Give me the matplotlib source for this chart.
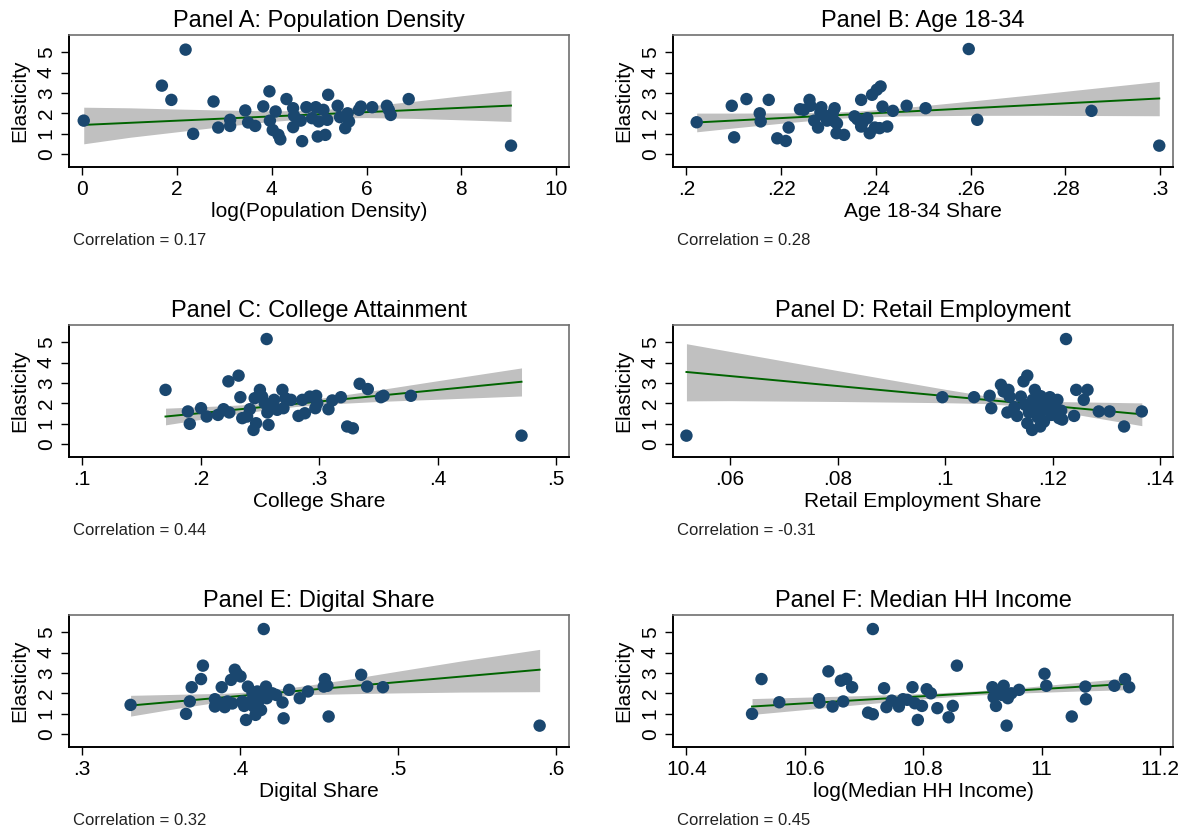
import matplotlib
matplotlib.use('Agg')
import matplotlib.pyplot as plt

plt.rcParams['font.family'] = ['Liberation Sans', 'DejaVu Sans']

# ---------------- data ----------------
titles = ['Panel A: Population Density', 'Panel B: Age 18-34',
          'Panel C: College Attainment', 'Panel D: Retail Employment',
          'Panel E: Digital Share', 'Panel F: Median HH Income']
xlabels = ['log(Population Density)', 'Age 18-34 Share', 'College Share',
           'Retail Employment Share', 'Digital Share', 'log(Median HH Income)']
correlations = ['0.17', '0.28', '0.44', '-0.31', '0.32', '0.45']
y_label = 'Elasticity'
y_ticks = [0, 1, 2, 3, 4, 5]

# Panel A
a_x = [0.03, 2.18, 1.68, 1.88, 2.34, 2.77, 2.87, 3.12, 3.12, 3.44, 3.50, 3.65, 3.82, 3.95, 3.96,
       4.08, 4.02, 4.14, 4.18, 4.31, 4.45, 4.47, 4.45, 4.61, 4.64, 4.73, 4.85, 4.93, 4.97, 4.99,
       5.09, 5.13, 5.19, 5.17, 5.39, 5.44, 5.55, 5.60, 5.63, 5.84, 5.88, 6.12, 6.43, 6.47, 6.51,
       6.89, 9.05]
a_y = [1.64, 5.13, 3.36, 2.66, 0.99, 2.58, 1.30, 1.68, 1.38, 2.14, 1.55, 1.38, 2.34, 3.08, 1.64,
       2.09, 1.18, 0.94, 0.72, 2.70, 2.25, 1.88, 1.32, 1.64, 0.63, 2.30, 1.76, 2.30, 0.86, 1.60,
       2.17, 0.94, 2.91, 1.68, 2.37, 1.81, 1.27, 2.00, 1.60, 2.17, 2.33, 2.30, 2.37, 2.17, 1.92,
       2.70, 0.41]
a_fit_x = [0.03, 9.05]
a_fit_y = [1.43, 2.38]
a_band_x = [0.03, 1, 2, 3, 4, 4.9, 6, 7, 8, 9.05]
a_band_hi = [2.30, 2.27, 2.21, 2.16, 2.12, 2.15, 2.35, 2.59, 2.86, 3.13]
a_band_lo = [0.50, 0.82, 1.09, 1.36, 1.60, 1.76, 1.79, 1.75, 1.68, 1.60]
a_ticks = [0, 2, 4, 6, 8, 10]
a_ticklabels = ['0', '2', '4', '6', '8', '10']

# Panel B
b_x = [.2022, .2096, .2101, .2127, .2155, .2157, .2174, .2192, .2210, .2216,
       .2248, .2260, .2262, .2270, .2278, .2285, .2289, .2297, .2309, .2313,
       .2313, .2317, .2333, .2361, .2369, .2369, .2382, .2387, .2392, .2402,
       .2410, .2408, .2414, .2424, .2436, .2465, .2505, .2596, .2614, .2855,
       .2998, .2240, .2300, .2318, .2355, .2372, .2398, .2283]
b_y = [1.56, 2.37, 0.82, 2.70, 2.00, 1.60, 2.66, 0.77, 0.64, 1.30,
       2.17, 2.66, 2.37, 1.64, 1.30, 2.30, 1.92, 1.64, 2.00, 2.25,
       1.60, 1.02, 0.94, 1.71, 2.66, 1.35, 1.76, 1.02, 2.91, 3.16,
       3.32, 1.27, 2.33, 1.35, 2.12, 2.37, 2.25, 5.16, 1.68, 2.12,
       0.41, 2.20, 1.85, 1.50, 1.85, 1.55, 1.30, 2.05]
b_fit_x = [.2022, .2998]
b_fit_y = [1.55, 2.73]
b_band_x = [.2022, .21, .22, .23, .236, .245, .26, .275, .2998]
b_band_hi = [2.01, 2.01, 2.02, 2.05, 2.11, 2.26, 2.60, 2.96, 3.57]
b_band_lo = [1.09, 1.28, 1.51, 1.72, 1.81, 1.87, 1.90, 1.90, 1.88]
b_ticks = [.2, .22, .24, .26, .28, .3]
b_ticklabels = ['.2', '.22', '.24', '.26', '.28', '.3']

# Panel C
c_x = [.1703, .1892, .1908, .2003, .2051, .2146, .2193, .2241, .2234, .2320,
       .2335, .2351, .2392, .2415, .2446, .2456, .2468, .2500, .2519, .2541,
       .2557, .2563, .2573, .2589, .2620, .2646, .2690, .2699, .2715, .2763,
       .2826, .2858, .2880, .2921, .2968, .2975, .2984, .3079, .3111, .3184,
       .3237, .3285, .3342, .3411, .3522, .3544, .3775, .4709]
c_y = [2.66, 1.60, 0.99, 1.76, 1.35, 1.43, 1.71, 1.55, 3.08, 3.36,
       2.30, 1.27, 1.35, 1.71, 0.69, 2.25, 1.02, 2.66, 2.33, 2.00,
       5.16, 1.55, 0.94, 1.84, 2.17, 1.68, 2.66, 1.76, 2.25, 2.17,
       1.38, 2.17, 1.51, 2.33, 1.76, 2.37, 2.00, 1.71, 2.14, 2.30,
       0.86, 0.77, 2.96, 2.70, 2.30, 2.37, 2.37, 0.41]
c_fit_x = [.1703, .4709]
c_fit_y = [1.35, 3.06]
c_band_x = [.1703, .2, .23, .26, .28, .31, .35, .40, .4709]
c_band_hi = [1.76, 1.83, 1.91, 2.01, 2.10, 2.32, 2.66, 3.11, 3.74]
c_band_lo = [0.94, 1.21, 1.47, 1.71, 1.84, 1.97, 2.09, 2.20, 2.36]
c_ticks = [.1, .2, .3, .4, .5]
c_ticklabels = ['.1', '.2', '.3', '.4', '.5']

# Panel D
d_x = [.0519, .0995, .1054, .1083, .1086, .1104, .1109, .1118, .1116, .1120,
       .1129, .1134, .1141, .1146, .1153, .1149, .1153, .1156, .1162, .1163,
       .1167, .1169, .1172, .1174, .1177, .1181, .1184, .1188, .1195, .1198,
       .1202, .1209, .1212, .1216, .1225, .1240, .1244, .1258, .1265, .1286,
       .1306, .1333, .1366, .1157, .1178, .1192, .1205, .1218]
d_y = [0.41, 2.30, 2.30, 2.37, 1.76, 2.91, 2.58, 2.66, 1.55, 2.33,
       1.81, 1.38, 2.33, 3.08, 3.36, 1.92, 1.02, 1.55, 0.69, 2.17,
       2.66, 1.76, 1.32, 2.00, 0.86, 1.64, 1.10, 2.09, 2.30, 1.43,
       1.88, 2.17, 1.27, 1.64, 5.16, 1.38, 2.66, 2.17, 2.66, 1.60,
       1.60, 0.86, 1.60, 1.85, 2.35, 1.75, 1.45, 1.20]
d_fit_x = [.0519, .1366]
d_fit_y = [3.54, 1.46]
d_band_x = [.0519, .06, .07, .08, .09, .10, .107, .113, .12, .1366]
d_band_hi = [4.93, 4.55, 4.08, 3.61, 3.15, 2.69, 2.39, 2.19, 2.09, 2.02]
d_band_lo = [2.12, 2.13, 2.11, 2.09, 2.06, 2.03, 1.99, 1.89, 1.65, 0.90]
d_ticks = [.06, .08, .1, .12, .14]
d_ticklabels = ['.06', '.08', '.1', '.12', '.14']

# Panel E
e_x = [.3306, .3657, .3681, .3693, .3752, .3764, .3840, .3840, .3883, .3902,
       .3919, .3942, .3966, .3978, .4002, .4014, .4025, .4037, .4049, .4078,
       .4085, .4097, .4108, .4120, .4132, .4149, .4156, .4163, .4168, .4203,
       .4227, .4268, .4275, .4310, .4377, .4429, .4529, .4536, .4552, .4560,
       .4766, .4804, .4904, .5896, .3860, .3950, .4060, .4110]
e_y = [1.43, 0.99, 1.60, 2.30, 2.70, 3.36, 1.71, 1.35, 2.30, 1.32,
       1.60, 2.66, 3.16, 2.99, 2.83, 1.60, 1.38, 0.69, 2.33, 2.00,
       1.35, 0.94, 2.09, 1.68, 1.18, 5.16, 2.17, 2.33, 1.76, 2.00,
       1.92, 1.55, 0.77, 2.17, 1.76, 2.09, 2.33, 2.70, 2.37, 0.86,
       2.91, 2.33, 2.30, 0.41, 1.55, 1.50, 1.55, 1.45]
e_fit_x = [.3306, .5896]
e_fit_y = [1.40, 3.16]
e_band_x = [.3306, .36, .39, .413, .44, .47, .50, .54, .5896]
e_band_hi = [1.90, 1.95, 2.00, 2.10, 2.36, 2.71, 3.09, 3.59, 4.16]
e_band_lo = [0.88, 1.26, 1.61, 1.82, 1.93, 1.98, 2.02, 2.06, 2.08]
e_ticks = [.3, .4, .5, .6]
e_ticklabels = ['.3', '.4', '.5', '.6']

# Panel F
f_x = [10.511, 10.527, 10.557, 10.624, 10.625, 10.640, 10.647, 10.661, 10.665, 10.670,
       10.680, 10.707, 10.715, 10.715, 10.734, 10.738, 10.747, 10.759, 10.766, 10.773,
       10.782, 10.786, 10.791, 10.798, 10.806, 10.813, 10.824, 10.843, 10.850, 10.857,
       10.917, 10.919, 10.923, 10.927, 10.933, 10.936, 10.941, 10.943, 10.949, 10.962,
       11.005, 11.008, 11.051, 11.074, 11.075, 11.123, 11.141, 11.148]
f_y = [0.99, 2.70, 1.56, 1.71, 1.55, 3.08, 1.35, 2.62, 1.60, 2.71,
       2.30, 1.05, 0.97, 5.16, 2.25, 1.32, 1.64, 1.35, 1.71, 1.68,
       2.30, 1.51, 0.69, 1.38, 2.20, 2.00, 1.27, 0.82, 1.38, 3.36,
       2.30, 1.81, 1.38, 2.09, 1.92, 2.37, 0.41, 1.76, 2.00, 2.17,
       2.96, 2.37, 0.86, 2.33, 1.71, 2.37, 2.70, 2.30]
f_fit_x = [10.511, 11.148]
f_fit_y = [1.35, 2.47]
f_band_x = [10.511, 10.6, 10.7, 10.8, 10.88, 10.95, 11.05, 11.148]
f_band_hi = [1.74, 1.81, 1.89, 1.99, 2.10, 2.24, 2.50, 2.76]
f_band_lo = [0.96, 1.20, 1.47, 1.73, 1.90, 2.00, 2.10, 2.18]
f_ticks = [10.4, 10.6, 10.8, 11, 11.2]
f_ticklabels = ['10.4', '10.6', '10.8', '11', '11.2']

# ---------------- layout / style ----------------
W, H = 1188, 831
fig = plt.figure(figsize=(W / 100, H / 100), dpi=100)

col_left_px = [69, 673]
row_top_px = [35, 325, 615]
box_w_px, box_h_px = 500, 132

xlims = [(-0.281, 10.274), (0.1972, 0.3027), (0.0888, 0.5110),
         (0.0494, 0.1424), (0.2916, 0.6082), (10.3775, 11.222)]
ylim = (-0.64, 5.85)

MARKER = '#1a476f'
LINE = '#006400'
BAND = '#c0c0c0'

panels = [
    (a_x, a_y, a_fit_x, a_fit_y, a_band_x, a_band_lo, a_band_hi, a_ticks, a_ticklabels),
    (b_x, b_y, b_fit_x, b_fit_y, b_band_x, b_band_lo, b_band_hi, b_ticks, b_ticklabels),
    (c_x, c_y, c_fit_x, c_fit_y, c_band_x, c_band_lo, c_band_hi, c_ticks, c_ticklabels),
    (d_x, d_y, d_fit_x, d_fit_y, d_band_x, d_band_lo, d_band_hi, d_ticks, d_ticklabels),
    (e_x, e_y, e_fit_x, e_fit_y, e_band_x, e_band_lo, e_band_hi, e_ticks, e_ticklabels),
    (f_x, f_y, f_fit_x, f_fit_y, f_band_x, f_band_lo, f_band_hi, f_ticks, f_ticklabels),
]

for i, (xs, ys, fx, fy, bx, blo, bhi, ticks, ticklabels) in enumerate(panels):
    r, c = divmod(i, 2)
    left = col_left_px[c] / W
    bottom = 1 - (row_top_px[r] + box_h_px) / H
    ax = fig.add_axes([left, bottom, box_w_px / W, box_h_px / H])

    ax.fill_between(bx, blo, bhi, color=BAND, linewidth=0, zorder=1)
    ax.plot(fx, fy, color=LINE, linewidth=1.4, zorder=2)
    ax.scatter(xs, ys, s=80, color=MARKER, edgecolors='none', zorder=3)

    ax.set_xlim(*xlims[i])
    ax.set_ylim(*ylim)
    ax.set_xticks(ticks)
    ax.set_xticklabels(ticklabels)
    ax.set_yticks(y_ticks)
    ax.set_yticklabels([str(t) for t in y_ticks], rotation=90, va='center')

    ax.tick_params(axis='both', direction='out', length=5.5, width=1.0,
                   labelsize=15, colors='black')
    ax.tick_params(axis='x', pad=4)
    ax.tick_params(axis='y', pad=4)

    for side in ['left', 'bottom']:
        ax.spines[side].set_color('black')
        ax.spines[side].set_linewidth(1.4)
    for side in ['top', 'right']:
        ax.spines[side].set_color('#707070')
        ax.spines[side].set_linewidth(1.2)

    ax.text(0.5, 1 + 7.7 / box_h_px, titles[i], transform=ax.transAxes,
            ha='center', va='baseline', fontsize=17)
    ax.text(0.5, -(216.7 - 167) / box_h_px, xlabels[i], transform=ax.transAxes,
            ha='center', va='baseline', fontsize=15)
    ax.text(-49 / box_w_px, 0.5, y_label, transform=ax.transAxes,
            ha='center', va='center', rotation=90, fontsize=15)
    ax.text(0.008, -(245 - 167) / box_h_px, 'Correlation = ' + correlations[i],
            transform=ax.transAxes, ha='left', va='baseline', fontsize=12,
            color='#222222')

fig.savefig('out.png', dpi=100, facecolor='white')
